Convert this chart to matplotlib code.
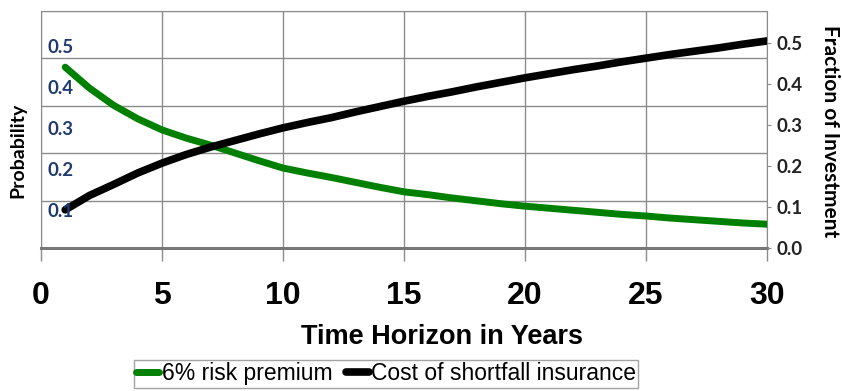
import matplotlib
matplotlib.use("Agg")
import matplotlib.pyplot as plt
import numpy as np

years = np.arange(1, 31)
risk_premium_6 = [0.441, 0.390, 0.348, 0.315, 0.288, 0.268, 0.251, 0.232, 0.213, 0.195,
                  0.183, 0.172, 0.160, 0.148, 0.137, 0.130, 0.122, 0.115, 0.108, 0.102,
                  0.097, 0.092, 0.087, 0.082, 0.078, 0.073, 0.069, 0.065, 0.061, 0.058]
insurance_cost = [0.093, 0.128, 0.155, 0.183, 0.207, 0.228, 0.246, 0.262, 0.278, 0.293,
                  0.306, 0.318, 0.332, 0.345, 0.358, 0.370, 0.381, 0.393, 0.404, 0.415,
                  0.425, 0.435, 0.444, 0.454, 0.463, 0.472, 0.480, 0.488, 0.497, 0.505]
x_ticks = [0, 5, 10, 15, 20, 25, 30]
y_ticks = [0.0, 0.1, 0.2, 0.3, 0.4, 0.5]

narrow = ['Liberation Sans Narrow', 'DejaVu Sans Condensed', 'Liberation Sans']
calib = ['Lato', 'DejaVu Sans']
grey = '#8c8c8c'

fig = plt.figure(figsize=(8.42, 3.91), dpi=100)
ax = fig.add_axes([41/842, 1 - 248/391, (767-41)/842, (248-11)/391])

# primary axis only carries the grid
ax.set_xlim(0, 30)
ax.set_ylim(0, 1)
ax.set_xticks(x_ticks)
ax.set_yticks(np.linspace(0, 1, 6))
ax.set_yticklabels([])
ax.tick_params(axis='y', length=0)
ax.grid(True, color=grey, lw=1)
ax.set_axisbelow(True)
for s in ax.spines.values():
    s.set_color(grey)
ax.spines['bottom'].set_linewidth(2.2)
ax.spines['bottom'].set_color('#777777')
ax.tick_params(axis='x', direction='out', length=9, width=1, color=grey, pad=15)
for lab in ax.get_xticklabels():
    lab.set_fontfamily(narrow)
    lab.set_fontweight('bold')
    lab.set_fontsize(23)

ax2 = ax.twinx()
ax2.set_ylim(0, 0.578)
ax2.set_yticks(y_ticks)
ax2.set_yticklabels(['%.1f' % v for v in y_ticks], fontfamily=calib,
                    fontweight='bold', fontsize=13.5, color='#222222')
ax2.tick_params(axis='y', direction='out', length=3, color=grey, pad=4)
for s in ax2.spines.values():
    s.set_visible(False)

l1, = ax2.plot(years, risk_premium_6, color='#008000', lw=5, solid_capstyle='round',
               label='6% risk premium')
l2, = ax2.plot(years, insurance_cost, color='black', lw=5.5, solid_capstyle='round',
               label='Cost of shortfall insurance')

# probability labels drawn inside the plot on the left
for v in y_ticks[1:]:
    ax2.text(0.25, v - 0.012, '%.1f' % v, fontfamily=calib, fontweight='bold', fontsize=13.5,
             color='#1f3a6e', ha='left', va='center')

fig.text(18/842, 1 - 150/391, 'Probability', rotation=90, ha='center', va='center',
         fontfamily=calib, fontweight='bold', fontsize=14)
fig.text(830/842, 1 - 131/391, 'Fraction of Investment', rotation=270, ha='center',
         va='center', fontfamily=calib, fontweight='bold', fontsize=15)
fig.text(442/842, 1 - 337/391, 'Time Horizon in Years', ha='center', va='center',
         fontfamily=narrow, fontweight='bold', fontsize=19.5)

leg = fig.legend(handles=[l1, l2], loc='upper left', bbox_to_anchor=(134/842, 1 - 360/391),
                 borderaxespad=0, ncol=2, frameon=True, fancybox=False, edgecolor=grey,
                 handlelength=1.0, handletextpad=0.1, columnspacing=0.6, borderpad=0.1,
                 prop={'family': narrow, 'size': 16.5})
leg.get_frame().set_linewidth(1)

fig.savefig('out.png', dpi=100)
